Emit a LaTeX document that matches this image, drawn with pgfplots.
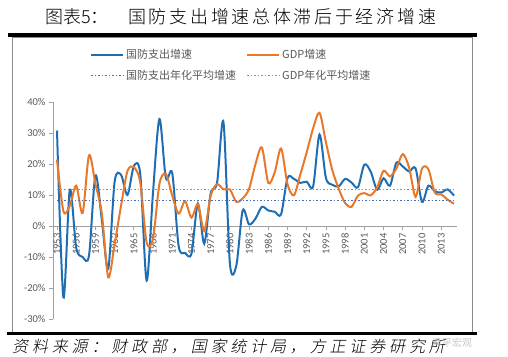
\documentclass[border=0pt]{standalone}
\usepackage{pgfplots}
\pgfplotsset{compat=1.18}
\usepackage{fontspec}
\setmainfont{Carlito}
\newfontfamily\cjk{Noto Sans CJK SC}
\newfontfamily\cjktitle[UprightFont={* Light},LetterSpace=15]{Noto Sans CJK SC}
\newfontfamily\cjktitlea[UprightFont={* Light}]{Noto Sans CJK SC}
\newfontfamily\cjksrc[UprightFont={* Light},FakeSlant=0.2,LetterSpace=24]{Noto Sans CJK SC}
\definecolor{blueline}{HTML}{1F6EB4}
\definecolor{orangeline}{HTML}{E8792B}
\definecolor{avgblue}{HTML}{4A6FB5}
\definecolor{axisgray}{HTML}{A0A0A0}
\definecolor{labelgray}{HTML}{595959}
\definecolor{framegray}{HTML}{8C8C8C}
\begin{document}
\begin{tikzpicture}[x=1pt,y=1pt]
\path[use as bounding box] (0,0) rectangle (508,356);
\draw[framegray, line width=0.8pt] (12,24) rectangle (472,319);
\fill[black] (8,319) rectangle (477,322.5);
\fill[black] (7,21) rectangle (477,24.5);
\node[anchor=west, inner sep=0pt, font=\cjktitlea\fontsize{18}{20}\selectfont] at (45,339) {图表5：};
\node[anchor=west, inner sep=0pt, font=\cjktitle\fontsize{18}{20}\selectfont] at (128,339) {国防支出增速总体滞后于经济增速};
\node[anchor=west, inner sep=0pt, font=\cjksrc\fontsize{16}{18}\selectfont] at (12,10) {资料来源：财政部，国家统计局，方正证券研究所};
\node[anchor=west, inner sep=0pt, text=gray!45, font=\cjk\fontsize{10}{12}\selectfont] at (432,13) {泽平宏观};
\begin{axis}[
  at={(53pt,37pt)}, anchor=south west,
  scale only axis, width=404pt, height=217pt,
  xmin=1952.375, xmax=2015.47, ymin=-30, ymax=40,
  axis x line=middle, axis y line=left,
  axis line style={draw=axisgray, line width=0.8pt, -},
  xtick={1953,1956,...,2013}, ytick={-30,-20,...,40},
  tick align=outside, major tick length=4pt,
  tick style={draw=axisgray, line width=0.8pt},
  /pgf/number format/assume math mode=true,
  xticklabel style={rotate=90, anchor=east, font=\fontsize{10.5}{12}\selectfont, text=labelgray, /pgf/number format/1000 sep={}},
  yticklabel={\pgfmathprintnumber{\tick}\%},
  yticklabel style={font=\fontsize{10.5}{12}\selectfont, text=labelgray},
  legend columns=2,
  legend cell align=left,
  legend image code/.code={\draw[#1] (0pt,0pt) -- (32pt,0pt);},
  legend style={draw=none, fill=none, at={(0.0916,1.2535)}, anchor=north west,
    font=\cjk\fontsize{11}{13}\selectfont, text=labelgray, inner sep=0pt, row sep=6pt,
    /tikz/every even column/.append style={column sep=8pt}},
]
\addplot[blueline, line width=2pt, smooth, tension=0.5] coordinates {
(1953,30.8) (1954,-23) (1955,11.7) (1956,-7) (1957,-10) (1958,-9.5) (1959,16.3) (1960,2)
(1961,-13.8) (1962,14.3) (1963,16.5) (1964,10) (1965,19.3) (1966,16.8) (1967,-17.6) (1968,11)
(1969,34.5) (1970,15.5) (1971,17) (1972,-6.5) (1973,-8.7) (1974,-8.9) (1975,7.2) (1976,-5.7)
(1977,10.5) (1978,14) (1979,33.5) (1980,-12) (1981,-12.8) (1982,5) (1983,0.5) (1984,2.4)
(1985,6.2) (1986,5) (1987,4.6) (1988,3.8) (1989,15.5) (1990,15.2) (1991,13.9) (1992,14.3)
(1993,12.8) (1994,29.5) (1995,15.5) (1996,13.3) (1997,12.8) (1998,15.2) (1999,14) (2000,12.5)
(2001,19.8) (2002,17.5) (2003,11.7) (2004,15.4) (2005,13) (2006,20.4) (2007,19.2) (2008,17.6)
(2009,18.6) (2010,7.8) (2011,13) (2012,11.2) (2013,10.8) (2014,11.8) (2015,9.8)};
\addlegendentry{国防支出增速}
\addplot[orangeline, line width=2pt, smooth, tension=0.5] coordinates {
(1953,21.4) (1954,4.8) (1955,6.5) (1956,13) (1957,4.2) (1958,22.8) (1959,13.6) (1960,4)
(1961,-16.5) (1962,-5.8) (1963,6.5) (1964,17.7) (1965,19) (1966,14) (1967,-5.3) (1968,-4)
(1969,13.6) (1970,16.8) (1971,9.8) (1972,4) (1973,8) (1974,2.7) (1975,7) (1976,-1.6)
(1977,9.8) (1978,13.5) (1979,11.8) (1980,11.8) (1981,7.8) (1982,8.9) (1983,12) (1984,20)
(1985,25.3) (1986,13.9) (1987,17.3) (1988,25) (1989,13.5) (1990,9.9) (1991,16.6) (1992,23.8)
(1993,31.5) (1994,36.5) (1995,27) (1996,18) (1997,12) (1998,7.4) (1999,6.2) (2000,9.8)
(2001,10.6) (2002,9.9) (2003,12.5) (2004,17.8) (2005,16) (2006,18.5) (2007,23.2) (2008,18.8)
(2009,9.4) (2010,18.5) (2011,18.3) (2012,10.8) (2013,10.2) (2014,8.5) (2015,7.2)};
\addlegendentry{GDP增速}
\addplot[avgblue, line width=1.5pt, dash pattern=on 1.5pt off 2pt] coordinates {(1953,8.2) (2015,8.2)};
\addlegendentry{国防支出年化平均增速}
\addplot[orangeline, line width=1.5pt, dash pattern=on 1.5pt off 2pt] coordinates {(1953,11.7) (2015,11.7)};
\addlegendentry{GDP年化平均增速}
\end{axis}
\end{tikzpicture}
\end{document}
